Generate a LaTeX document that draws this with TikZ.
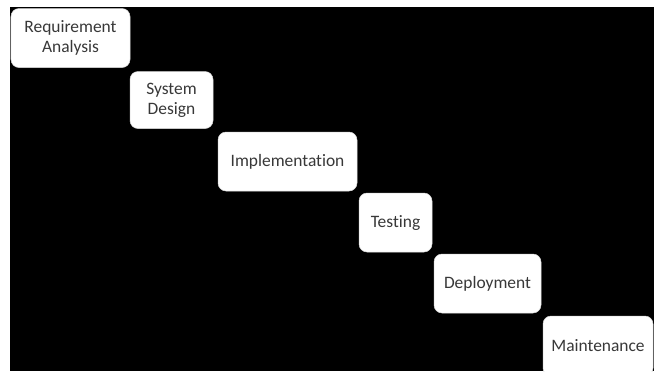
\documentclass[tikz,border=0pt]{standalone}
\usepackage{fontspec}
\setmainfont[Ligatures=NoCommon]{Carlito}
\definecolor{boxtext}{HTML}{383838}
\begin{document}
\begin{tikzpicture}[x=1bp,y=-1bp,
  stagebox/.style={rectangle, rounded corners=8bp, fill=white, draw=gray!30, line width=0.5bp,
    inner sep=0pt, outer sep=0pt, align=center, text=boxtext,
    font=\fontsize{17.5}{20}\selectfont}]
\useasboundingbox (0,0) rectangle (654,371);
\fill[white] (0,0) rectangle (654,371);
\clip (0,0) rectangle (654,371);
\fill[black] (10,6.5) rectangle (654,371);
\node[stagebox, minimum width=119bp, minimum height=59bp] (req) at (70.5,38) {Requirement\\Analysis};
\node[stagebox, minimum width=83bp, minimum height=57bp] (sys) at (171.5,100) {System\\Design};
\node[stagebox, minimum width=139bp, minimum height=59bp] (imp) at (287.5,161.5) {Implementation};
\node[stagebox, minimum width=73bp, minimum height=59bp] (tst) at (395.5,222.5) {Testing};
\node[stagebox, minimum width=107bp, minimum height=59bp] (dep) at (487.5,283.5) {Deployment};
\node[stagebox, minimum width=110bp, minimum height=60bp] (mnt) at (598,346) {Maintenance};
\end{tikzpicture}
\end{document}
